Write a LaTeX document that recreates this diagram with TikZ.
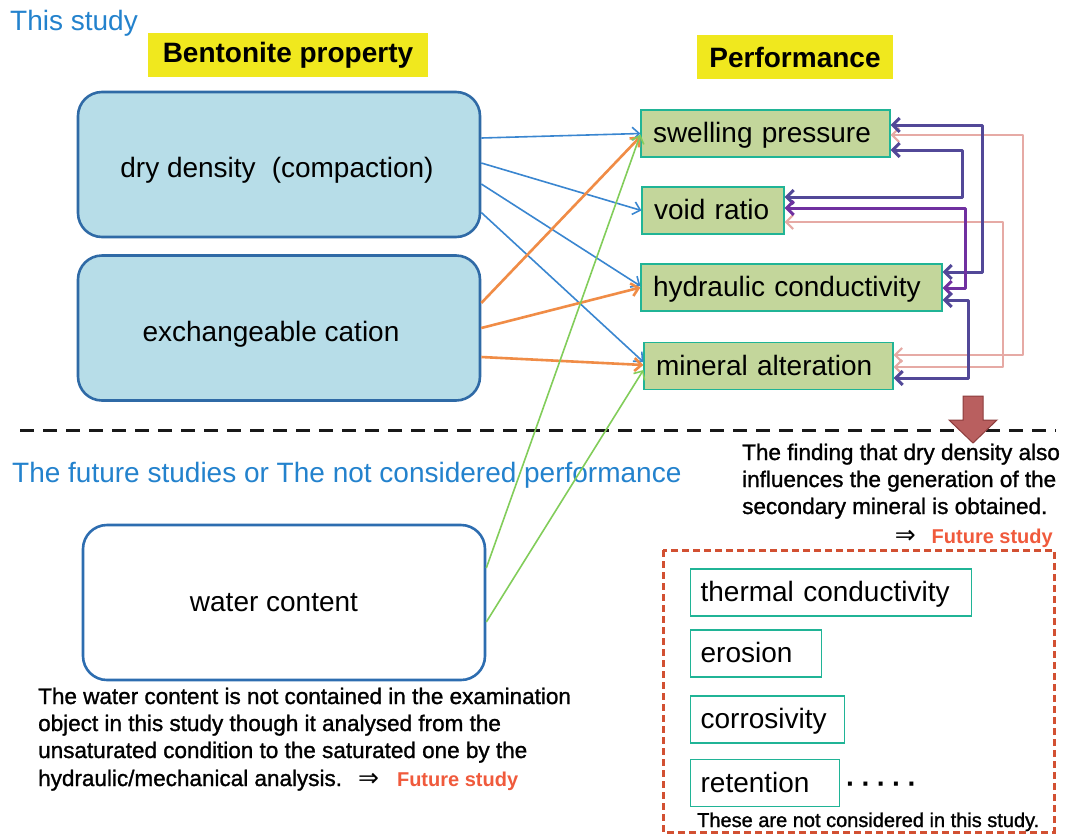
\documentclass[tikz,border=0pt]{standalone}
\usepackage{fontspec}
\setmainfont{Liberation Sans}
\newfontfamily\djv{DejaVu Sans}
\newfontfamily\notefont[FakeBold=1.2]{Liberation Sans}
\usetikzlibrary{arrows.meta,calc}
\definecolor{bdark}{RGB}{47,106,166}
\definecolor{lblue}{RGB}{183,221,232}
\definecolor{wcblue}{RGB}{45,109,176}
\definecolor{yel}{RGB}{240,232,30}
\definecolor{teal1}{RGB}{32,180,150}
\definecolor{olive1}{RGB}{195,214,155}
\definecolor{ablue}{RGB}{58,134,208}
\definecolor{aorange}{RGB}{240,140,70}
\definecolor{agreen}{RGB}{130,205,90}
\definecolor{purp1}{RGB}{82,72,152}
\definecolor{purp2}{RGB}{112,48,160}
\definecolor{pink1}{RGB}{230,170,165}
\definecolor{tblue}{RGB}{35,130,205}
\definecolor{fut}{RGB}{240,90,60}
\definecolor{framered}{RGB}{210,80,50}
\definecolor{arrfill}{RGB}{185,95,95}
\definecolor{arrdraw}{RGB}{140,60,60}
\newcommand\myfs[1]{\fontsize{#1}{#1}\selectfont}
\newcommand\dropt[2]{\raisebox{-#1}[20pt][6pt]{#2}}
\tikzset{
  lbox/.style={draw=bdark, fill=lblue, line width=2.6pt, rounded corners=24pt,
    minimum width=402pt, minimum height=145pt, font=\myfs{28}, text=black},
  wcbox/.style={lbox, fill=white, draw=wcblue, minimum height=155pt},
  ylab/.style={fill=yel, font=\myfs{28}\bfseries, minimum height=44pt, inner sep=0pt},
  pbox/.style={draw=teal1, fill=olive1, line width=1.2pt, minimum height=47pt,
    inner xsep=12pt, inner ysep=0pt, align=left, font=\myfs{28}, text width=#1},
  wbox/.style={draw=teal1, fill=white, line width=1.2pt, minimum height=47pt,
    inner xsep=10pt, inner ysep=0pt, align=left, font=\myfs{28}, text width=#1, anchor=west},
  tipone/.style={-{Straight Barb[length=7pt,width=13pt]}},
  tipdbl/.style={{Straight Barb[length=7pt,width=14pt]}-{Straight Barb[length=7pt,width=14pt]}},
  blarr/.style={tipone, draw=ablue, line width=1.6pt},
  orarr/.style={tipone, draw=aorange, line width=2.6pt},
  grarr/.style={tipone, draw=agreen, line width=1.6pt},
  pparr/.style={tipdbl, draw=purp1, line width=3pt, line join=round},
  pqarr/.style={tipdbl, draw=purp2, line width=3pt, line join=round},
  pkarr/.style={tipdbl, draw=pink1, line width=2.2pt, line join=round},
  note/.style={anchor=base west, inner sep=0pt, font=\notefont\myfs{22.5}},
}
\begin{document}
\begin{tikzpicture}[x=1pt,y=-1pt]
\fill[white] (0,0) rectangle (1073,836);
\useasboundingbox (0,0) rectangle (1073,836);

% titles
\node[anchor=base west, inner sep=0pt, font=\myfs{28}, text=tblue] (ts) at (10,30) {This study};
\node[ylab, minimum width=280pt] (bp) at (288,55) {Bentonite property};
\node[ylab, minimum width=196pt] (pf) at (795,57) {Performance};

% property boxes
\node[lbox] (dd) at (279,164.5) {\dropt{6pt}{dry density\hspace{16pt}(compaction)}\kern4pt};
\node[lbox] (ec) at (279,328) {\dropt{6pt}{exchangeable cation}\kern16pt};
\node[wcbox] (wc) at (284,602.5) {\dropt{2pt}{water content}\kern20pt};

% performance boxes
\node[pbox=225pt] (sp) at (765.5,133.5) {\dropt{2pt}{swelling pressure}};
\node[pbox=118pt] (vr) at (713,210.5) {\dropt{2pt}{void ratio}};
\node[pbox=277pt] (hc) at (791.5,287.5) {\dropt{2pt}{hydraulic conductivity}};
\node[pbox=225pt] (ma) at (768.5,366) {\dropt{2pt}{mineral alteration}};

% dashed separator
\draw[line width=3pt, draw=black!90, dash pattern=on 14pt off 9pt] (20,430) coordinate (dl) -- (1056,430) coordinate (dr);
\node[anchor=base west, inner sep=0pt, font=\myfs{28}, text=tblue] (fs) at (12,482) {The future studies or The not considered performance};

% red block arrow
\draw[fill=arrfill, draw=arrdraw, line width=1pt, line join=miter]
  (963,396) -- (983,396) -- (983,420) -- (997,420) -- (973,443) -- (949,420) -- (963,420) -- cycle;

% property -> performance connectors
\draw[blarr] ($(dd.east)+(0,-26.5)$) -- (sp.west);
\draw[blarr] ($(dd.east)+(0,-1.5)$) -- (vr.west);
\draw[blarr] ($(dd.east)+(0,19.5)$) -- ($(hc.west)+(0,-1.5)$);
\draw[blarr] ($(dd.east)+(0,48)$) -- ($(ma.west)+(0,-4)$);
\draw[orarr] ($(ec.east)+(0,-25)$) -- ($(sp.west)+(0,3)$);
\draw[orarr] (ec.east) -- (hc.west);
\draw[orarr] ($(ec.east)+(0,29)$) -- ($(ma.west)+(0,-1)$);
\draw[grarr] ($(wc.east)+(0,-34.5)$) -- ($(sp.west)+(0,1)$);
\draw[grarr] ($(wc.east)+(0,19.5)$) -- ($(ma.west)+(0,4)$);

% feedback connectors
\draw[pkarr] ($(sp.east)+(0,1.5)$) -- ++(132,0) |- ($(ma.east)+(0,-11)$);
\draw[pkarr] ($(vr.east)+(0,11.5)$) -- ++(218,0) |- ($(ma.east)+(0,1)$);
\draw[pparr] ($(sp.east)+(0,-8.5)$) -- ++(92,0) |- ($(hc.east)+(0,-15.5)$);
\draw[pparr] ($(sp.east)+(0,16.5)$) -- ++(72,0) |- ($(vr.east)+(0,-13.5)$);
\draw[pqarr] ($(vr.east)+(0,-2.5)$) -- ++(181,0) |- ($(hc.east)+(0,0.5)$);
\draw[pparr] ($(hc.east)+(0,12.5)$) -- ++(26,0) |- ($(ma.east)+(0,12)$);

% right note
\node[note] (n1) at (742,460) {The finding that dry density also};
\node[note] (n2) at (742,487) {influences the generation of the};
\node[note] (n3) at (742,514) {secondary mineral is obtained.};
\node[anchor=base east, inner sep=0pt, font=\myfs{20}] (n4) at (1053,543) {{\djv\myfs{25}⇒}\hspace{16pt}{\color{fut}\bfseries Future study}};

% not-considered frame
\draw[draw=framered, line width=3pt, dash pattern=on 7pt off 4pt] (663,550) rectangle (1054,832);
\node[wbox=261pt] (tcd) at (690,592.5) {\dropt{2pt}{thermal conductivity}};
\node[wbox=111pt] (ero) at (690,653.5) {\dropt{2pt}{erosion}};
\node[wbox=134pt] (cor) at (690,719.5) {\dropt{2pt}{corrosivity}};
\node[wbox=129pt] (ret) at (690,783) {\dropt{2pt}{retention}};
\node[anchor=base west, inner sep=0pt, font=\myfs{28}\bfseries] (dots) at (846,793) {·\hspace{6pt}·\hspace{6pt}·\hspace{6pt}·\hspace{6pt}·};
\node[anchor=base west, inner sep=0pt, font=\notefont\myfs{20}] (nc) at (697,827) {These are not considered in this study.};

% bottom-left note
\node[note] (w1) at (38,704) {The water content is not contained in the examination};
\node[note] (w2) at (38,731) {object in this study though it analysed from the};
\node[note] (w3) at (38,758) {unsaturated condition to the saturated one by the};
\node[note] (w4) at (38,786) {hydraulic/mechanical analysis.\hspace{16pt}{\djv\myfs{25}⇒}\hspace{18pt}{\rmfamily\myfs{20}\color{fut}\bfseries Future study}};
\end{tikzpicture}
\end{document}
